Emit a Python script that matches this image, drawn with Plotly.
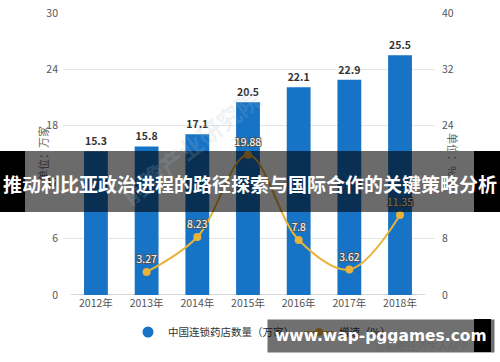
import plotly.graph_objects as go

years = ["2012年", "2013年", "2014年", "2015年", "2016年", "2017年", "2018年"]
stores = [15.3, 15.8, 17.1, 20.5, 22.1, 22.9, 25.5]
growth_years = ["2013年", "2014年", "2015年", "2016年", "2017年", "2018年"]
growth = [3.27, 8.23, 19.88, 7.8, 3.62, 11.35]
left_ticks = [0, 6, 12, 18, 24, 30]
right_ticks = [0, 8, 16, 24, 32, 40]

banner_text = "推动利比亚政治进程的路径探索与国际合作的关键策略分析"
site_text = "www.wap-pggames.com"

W, H = 500, 362
L, R, T, B = 63, 65, 13, 67
PW, PH = W - L - R, H - T - B

def px2x(X):
    return (X - L) / PW

def px2y(Y):
    return (H - B - Y) / PH

FONT = "Noto Sans CJK SC, Open Sans, sans-serif"
BLUE = "#1673c5"
GOLD = "#e9b33b"

xi = list(range(len(years)))
gx = [years.index(y) for y in growth_years]

fig = go.Figure()
fig.add_trace(go.Bar(
    x=xi, y=stores, width=0.47, marker=dict(color=BLUE, line=dict(width=0)),
    text=[f"{v}" for v in stores], textposition="outside", cliponaxis=False,
    textfont=dict(family=FONT, size=10.5, color="#333333", weight="bold"),
    showlegend=False, name="中国连锁药店数量（万家）"))
fig.add_trace(go.Scatter(
    x=[None], y=[None], mode="markers", name="中国连锁药店数量（万家）",
    marker=dict(color=BLUE, size=11, symbol="circle")))
fig.add_trace(go.Scatter(
    x=gx, y=growth, yaxis="y2", mode="lines+markers+text", name="增速（%）",
    line=dict(color=GOLD, width=2, shape="spline", smoothing=1.0),
    marker=dict(color=GOLD, size=8),
    text=[f"{v}" for v in growth], textposition="top center", cliponaxis=False,
    textfont=dict(family=FONT, size=10.5, color="#ffffff",
                  shadow="-1px -1px 0 #555, 1px -1px 0 #555, -1px 1px 0 #555, 1px 1px 0 #555")))

def prect(x0, x1, y0, y1, color):
    return dict(type="rect", xref="paper", yref="paper",
                x0=px2x(x0), x1=px2x(x1), y0=px2y(y1), y1=px2y(y0),
                fillcolor=color, line=dict(width=0), layer="above")

shapes = [
    dict(type="line", xref="x", yref="y", x0=-0.5, x1=6.5, y0=0, y1=0,
         line=dict(color="#cccccc", width=1.5), layer="below"),
    prect(25, 474, 151, 212, "rgba(0,0,0,0.58)"),
    prect(0, 25, 151, 212, "#000000"),
    prect(474, 500, 151, 212, "#000000"),
    prect(474, 491, 319, 352, "#000000"),
]

ann = []
ann.append(dict(xref="paper", yref="paper", x=px2x(190), y=px2y(78), text="前瞻产业研究院",
                showarrow=False, textangle=-38,
                font=dict(family=FONT, size=24, color="rgba(170,185,200,0.2)", weight="bold")))
ann.append(dict(xref="paper", yref="paper", x=px2x(33), y=px2y(154),
                text="<span style='color:#2e2e2e'>单位：</span>万家",
                showarrow=False, textangle=-90, font=dict(family=FONT, size=11, color="#666666")))
ann.append(dict(xref="paper", yref="paper", x=px2x(463), y=px2y(154),
                text="单位<span style='color:#2e2e2e'>：%</span>",
                showarrow=False, textangle=90, font=dict(family=FONT, size=11, color="#666666")))
ann.append(dict(xref="paper", yref="paper", x=px2x(250), y=px2y(183), text=banner_text,
                showarrow=False, font=dict(family=FONT, size=19, color="#ffffff", weight="bold")))
ann.append(dict(xref="paper", yref="paper", x=px2x(267), y=px2y(335.5), xanchor="left", yanchor="middle",
                text=site_text, showarrow=False, bgcolor="rgba(0,0,0,0.56)", borderpad=7,
                font=dict(family="DejaVu Sans", size=15.5, color="#ffffff", weight="bold")))
ann.append(dict(xref="paper", yref="paper", x=px2x(470), y=px2y(355), xanchor="right", text="@前瞻经济学人APP",
                showarrow=False, font=dict(family=FONT, size=10.5, color="#666666")))

fig.update_layout(
    width=W, height=H, margin=dict(l=L, r=R, t=T, b=B, autoexpand=False),
    paper_bgcolor="white", plot_bgcolor="white",
    font=dict(family=FONT, size=10.5, color="#555555"),
    xaxis=dict(range=[-0.65, 6.69], tickvals=xi, ticktext=years, showgrid=False,
               zeroline=False, showline=False, ticks="", tickfont=dict(size=10.5, color="#555555"),
               automargin=False),
    yaxis=dict(range=[0, 30], tickvals=left_ticks, showgrid=True, gridcolor="#e5e5e5",
               gridwidth=1, zeroline=False, showline=False, ticks="", ticklabelstandoff=4,
               automargin=False),
    yaxis2=dict(range=[0, 40], tickvals=right_ticks, overlaying="y", side="right",
                showgrid=False, zeroline=False, showline=False, ticks="", ticklabelstandoff=6,
                automargin=False),
    legend=dict(orientation="h", x=px2x(262), xanchor="center", y=px2y(332), yanchor="middle",
                font=dict(size=10.5, color="#333333"), bgcolor="rgba(0,0,0,0)"),
    shapes=shapes,
    annotations=ann,
)

fig.write_html("out.html", config={"displayModeBar": False},
               post_script="document.body.style.margin='0';document.body.style.overflow='hidden';")
